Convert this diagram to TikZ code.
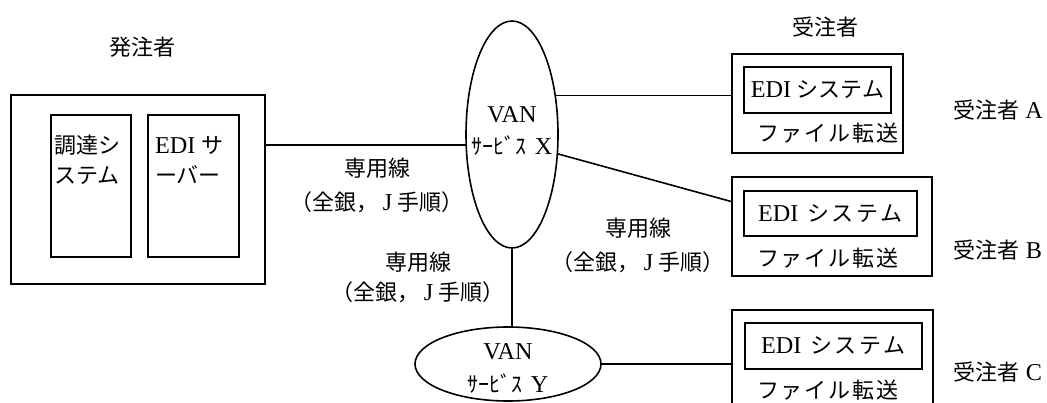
\documentclass[tikz,border=0pt]{standalone}
\usepackage{fontspec}
\setmainfont[Scale=1.1]{Liberation Serif}
\newfontfamily\JP{Noto Sans CJK JP}
\usetikzlibrary{shapes.geometric,calc}
\newcommand\FTx[1]{{\JP フ\kern#1ァ\kern#1イ\kern#1ル\kern#1転\kern#1送}}
\newcommand\EDIx[2]{EDI\kern#1{\JP シ\kern#2ス\kern#2テ\kern#2ム}}
\newcommand\SENYO{{\JP 専用線}\\{\JP （全銀，}\kern4pt J\kern5pt{\JP 手順）}}
\begin{document}
\begin{tikzpicture}[x=1pt,y=-1pt,line width=1.6pt,
  every node/.style={font=\fontsize{22}{30}\selectfont,inner sep=0pt,outer sep=0pt},
  box/.style={draw,rectangle,inner sep=0pt},
  van/.style={draw,ellipse,inner sep=0pt},
  txt/.style={align=center},
  ltxt/.style={align=left,anchor=west}]
\useasboundingbox (0,0) rectangle (1047,403);
% orderer
\node (hL) at (142,47) {\JP 発注者};
\node[box,minimum width=254pt,minimum height=189pt] (L) at (138,189.5) {};
\node[box,minimum width=80pt,minimum height=142pt] (b1) at (91,186) {};
\node[box,minimum width=91pt,minimum height=142pt] (b2) at (193.5,186) {};
\node[ltxt] (t1) at (54,160) {{\JP 調達シ}\\{\JP ステム}};
\node[ltxt] (t2) at (155,160) {EDI\kern6pt{\JP サ}\\{\JP ーバー}};
% VAN
\node[van,minimum width=92pt,minimum height=227pt] (vx) at (512,134.5) {};
\node[txt,font=\fontsize{22}{32}\selectfont] (vxt) at (512,131) {VAN\\{\JP ｻｰﾋﾞｽ}\kern8pt X};
\node[van,minimum width=186pt,minimum height=74pt] (vy) at (508,364) {};
\node[txt,font=\fontsize{22}{33}\selectfont] (vyt) at (508,368) {VAN\\{\JP ｻｰﾋﾞｽ}\kern8pt Y};
% receivers
\node (hR) at (825,27) {\JP 受注者};
\node[box,minimum width=171pt,minimum height=99pt] (A) at (817.5,103.5) {};
\node[box,minimum width=147pt,minimum height=46pt] (Ai) at (817.5,90) {};
\node (Ae) at (Ai) {\EDIx{5pt}{0pt}};
\node[anchor=west] (Af) at (757,133) {\FTx{1.8pt}};
\node (la) at (998,110) {{\JP 受注者} A};
\node[box,minimum width=200pt,minimum height=99pt] (B) at (832,226.5) {};
\node[box,minimum width=173pt,minimum height=45pt] (Bi) at (830.5,213.5) {};
\node (Be) at (Bi) {\EDIx{9pt}{2.5pt}};
\node[anchor=west] (Bf) at (757,258) {\FTx{1.8pt}};
\node (lb) at (998,250) {{\JP 受注者} B};
\node[box,minimum width=201pt,minimum height=99pt] (C) at (832.5,359.5) {};
\node[box,minimum width=177pt,minimum height=46pt] (Ci) at (833.5,346) {};
\node (Ce) at (Ci) {\EDIx{9pt}{2.5pt}};
\node[anchor=west] (Cf) at (757,390) {\FTx{1.8pt}};
\node (lc) at (998,372) {{\JP 受注者} C};
% labels
\node[txt,font=\fontsize{22}{34}\selectfont] (l1) at (377,185) {\SENYO};
\node[txt,font=\fontsize{22}{34}\selectfont] (l2) at (638,245) {\SENYO};
\node[txt,font=\fontsize{22}{30}\selectfont] (l3) at (418,277) {\SENYO};
% connectors
\coordinate (p) at ($(L.north east)!0.265!(L.south east)$);
\draw (p) -- (p -| vx.west);
\draw (vx.42) -- (vx.42 -| A.west);
\draw (vx.-23) -- ($(B.north west)!0.25!(B.south west)$);
\draw (vx.south) -- (vx.south |- vy.north);
\draw (vy.east) -- (vy.east -| C.west);
\end{tikzpicture}
\end{document}
